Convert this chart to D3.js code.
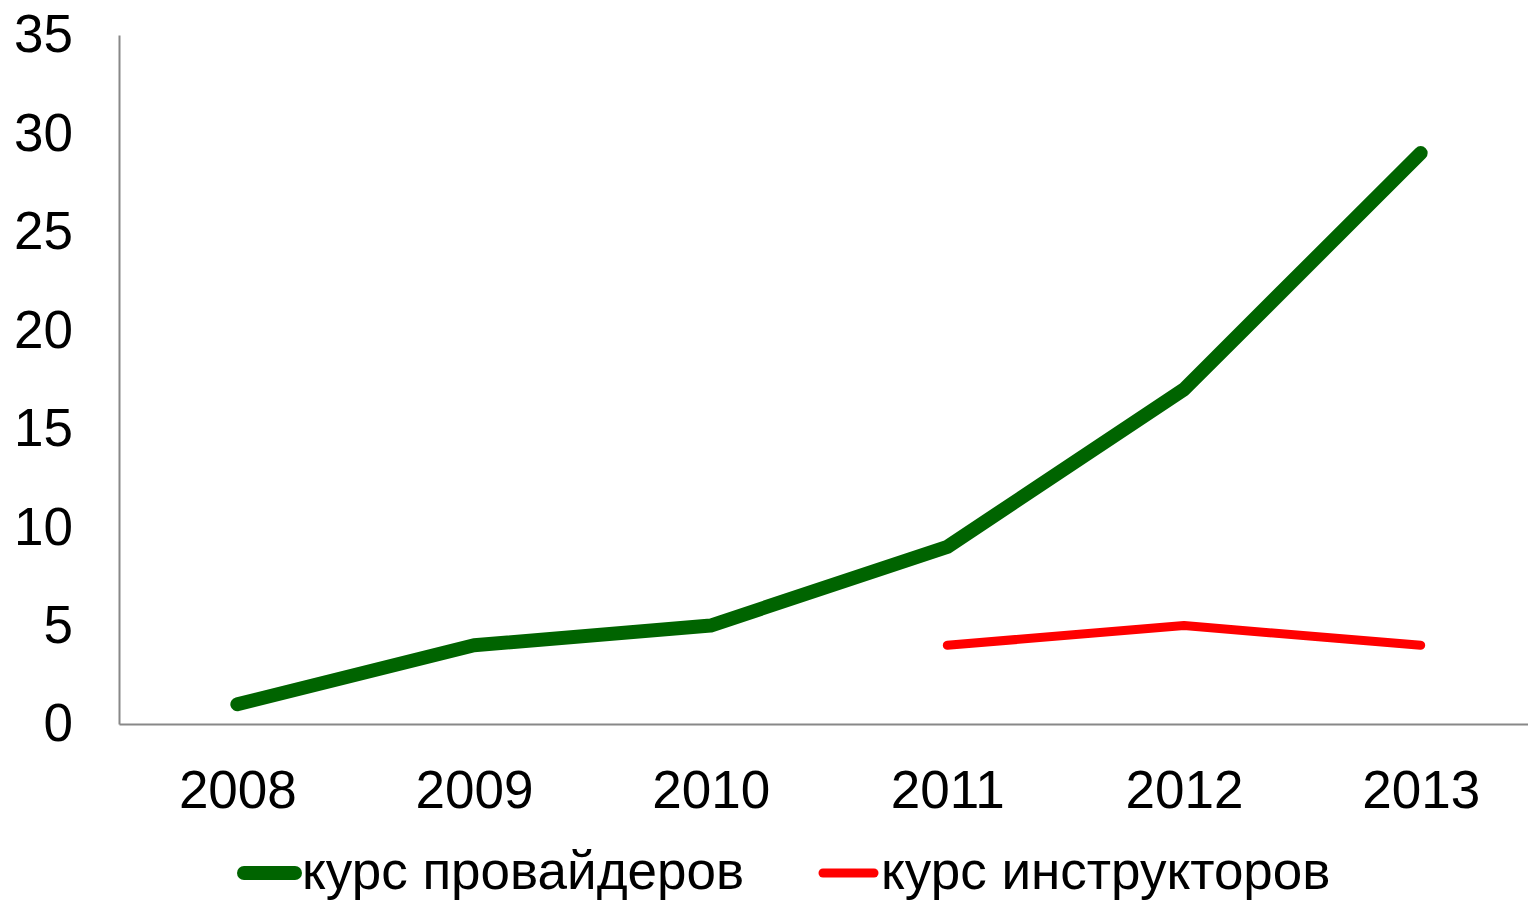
<!DOCTYPE html>
<html>
<head>
<meta charset="utf-8">
<script src="https://cdn.jsdelivr.net/npm/d3@7"></script>
<style>
  body { margin: 0; background: #fff; }
  svg { display: block; font-family: "Liberation Sans", Arial, sans-serif; }
</style>
</head>
<body>
<svg id="chart" width="1528" height="902"></svg>
<script>
let years = ["2008", "2009", "2010", "2011", "2012", "2013"];
let providers = [1, 4, 5, 9, 17, 29];
let instructors = [null, null, null, 4, 5, 4];
let yTicks = [0, 5, 10, 15, 20, 25, 30, 35];
let seriesNames = ["курс провайдеров", "курс инструкторов"];
let seriesColors = ["#006400", "#ff0000"];
let seriesWidths = [14, 9];

let plotLeft = 119, plotTop = 35, plotBottom = 724, plotRight = 1539;
let fontSize = 53;

let svg = d3.select("#chart");

let x = d3.scalePoint()
    .domain(years)
    .range([plotLeft, plotRight])
    .padding(0.5);

let y = d3.scaleLinear()
    .domain([0, 35])
    .range([plotBottom, plotTop]);

// y axis
let yAxis = svg.append("g")
    .attr("transform", "translate(" + plotLeft + ",0)")
    .call(d3.axisLeft(y).tickValues(yTicks).tickSize(0).tickPadding(46));
yAxis.select(".domain").attr("stroke", "#888").attr("stroke-width", 2);
yAxis.selectAll("text")
    .style("font-size", fontSize + "px")
    .style("font-family", "Liberation Sans, Arial, sans-serif")
    .attr("fill", "#000");

// x axis
let xAxis = svg.append("g")
    .attr("transform", "translate(0," + plotBottom + ")")
    .call(d3.axisBottom(x).tickSize(0).tickPadding(46));
xAxis.select(".domain").attr("stroke", "#888").attr("stroke-width", 2);
xAxis.selectAll("text")
    .style("font-size", fontSize + "px")
    .style("font-family", "Liberation Sans, Arial, sans-serif")
    .attr("fill", "#000");

let line = d3.line()
    .defined(d => d.v != null)
    .x(d => x(d.year))
    .y(d => y(d.v));

[providers, instructors].forEach((values, i) => {
    let pts = years.map((yr, j) => ({ year: yr, v: values[j] }));
    svg.append("path")
        .datum(pts)
        .attr("d", line)
        .attr("fill", "none")
        .attr("stroke", seriesColors[i])
        .attr("stroke-width", seriesWidths[i])
        .attr("stroke-linecap", "round")
        .attr("stroke-linejoin", "round");
});

// legend
let legendX = [244, 823];
let legendY = 873;
seriesNames.forEach((name, i) => {
    let g = svg.append("g").attr("transform", "translate(" + legendX[i] + "," + legendY + ")");
    g.append("line")
        .attr("x1", 0).attr("x2", 51)
        .attr("y1", 0).attr("y2", 0)
        .attr("stroke", seriesColors[i])
        .attr("stroke-width", seriesWidths[i])
        .attr("stroke-linecap", "round");
    g.append("text")
        .attr("x", 58)
        .attr("y", 16)
        .style("font-size", fontSize + "px")
        .attr("fill", "#000")
        .text(name);
});
</script>
</body>
</html>
